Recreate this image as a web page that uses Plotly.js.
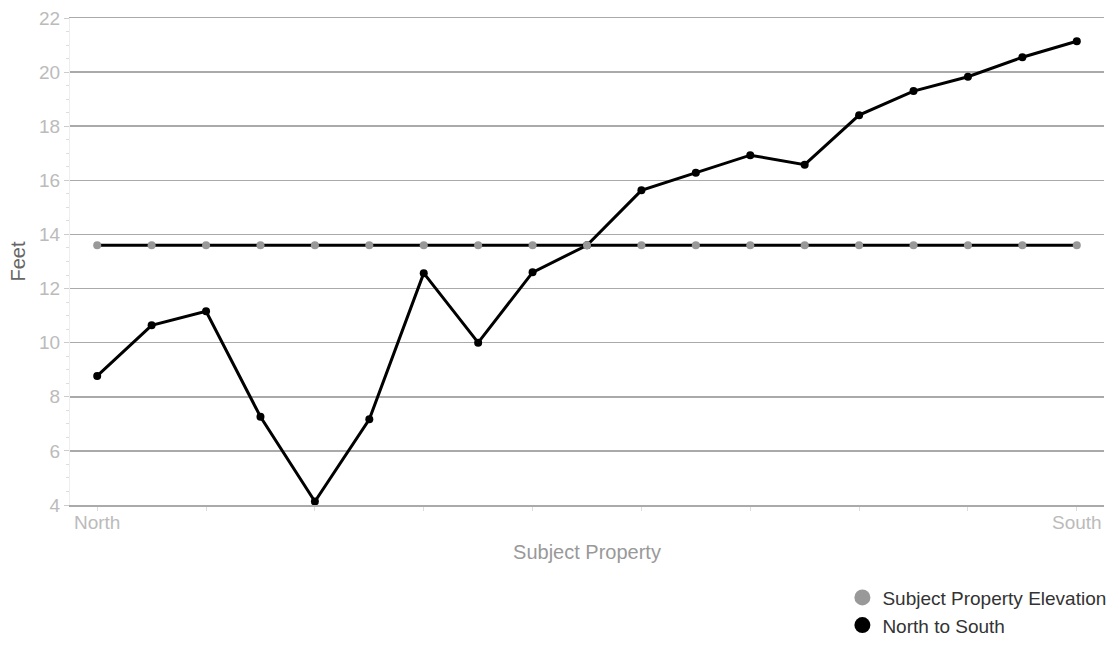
<!DOCTYPE html>
<html>
<head>
<meta charset="utf-8">
<script src="https://cdn.plot.ly/plotly-3.0.1.min.js"></script>
<style>html,body{margin:0;padding:0;background:#fff;}#chart{width:1120px;height:662px;}</style>
</head>
<body>
<div id="chart"></div>
<script>
// Station index along the profile (North -> South)
var stations = [0,1,2,3,4,5,6,7,8,9,10,11,12,13,14,15,16,17,18];
var endTickVals = [0, 18];
var endTickText = ["North", "South"];
var northToSouth = [8.77,10.64,11.16,7.26,4.13,7.17,12.57,10.0,12.6,13.6,15.63,16.28,16.93,16.58,18.41,19.3,19.83,20.55,21.14];
var subjectElevation = [13.6,13.6,13.6,13.6,13.6,13.6,13.6,13.6,13.6,13.6,13.6,13.6,13.6,13.6,13.6,13.6,13.6,13.6,13.6];
var seriesNames = ["Subject Property Elevation", "North to South"];

var traces = [
  {x: stations, y: northToSouth, mode: 'lines+markers', showlegend: false,
   line: {color: '#000', width: 3}, marker: {color: '#000', size: 8}, hoverinfo: 'y'},
  {x: stations, y: subjectElevation, mode: 'lines+markers', showlegend: false,
   line: {color: '#000', width: 3}, marker: {color: '#999', size: 8}, hoverinfo: 'y'},
  {x: [null], y: [null], mode: 'markers', name: seriesNames[0],
   marker: {color: '#999', size: 16}},
  {x: [null], y: [null], mode: 'markers', name: seriesNames[1],
   marker: {color: '#000', size: 16}}
];

var layout = {
  width: 1120, height: 662,
  margin: {l: 70, r: 16, t: 18, b: 157, autoexpand: false},
  paper_bgcolor: '#fff', plot_bgcolor: '#fff',
  font: {family: 'Liberation Sans, Arial, sans-serif', color: '#aaa', size: 18},
  showlegend: true,
  legend: {x: 0.747, xanchor: 'left', y: -0.151, yanchor: 'top',
           font: {size: 19, color: '#333'}, traceorder: 'normal', bgcolor: 'rgba(0,0,0,0)', tracegroupgap: 0},
  xaxis: {
    range: [-0.5, 18.5], tickmode: 'array', tickvals: endTickVals, ticktext: endTickText,
    automargin: false,
    showgrid: false, zeroline: false, showline: true, mirror: true, linecolor: '#aaa', linewidth: 1.5, ticks: '',
    tickfont: {size: 19, color: '#bbb'},
    minor: {dtick: 2, tick0: 0, ticks: 'outside', ticklen: 4, tickcolor: '#ddd', showgrid: false},
    title: {text: 'Subject Property', font: {size: 20, color: '#999'}, standoff: 12}
  },
  yaxis: {
    range: [4, 22], dtick: 2, tick0: 4, automargin: false,
    showgrid: true, gridcolor: '#aaa', gridwidth: 1.5, zeroline: false,
    showline: true, linecolor: '#eee', linewidth: 1,
    ticks: 'outside', ticklen: 5, tickcolor: '#ccc',
    minor: {dtick: 0.5, ticks: 'outside', ticklen: 3, tickcolor: '#ddd', showgrid: false},
    tickfont: {size: 19, color: '#bbb'},
    title: {text: 'Feet', font: {size: 20, color: '#666'}, standoff: 8}
  },
  hovermode: 'closest'
};

Plotly.newPlot('chart', traces, layout, {displayModeBar: false, staticPlot: true});
</script>
</body>
</html>
